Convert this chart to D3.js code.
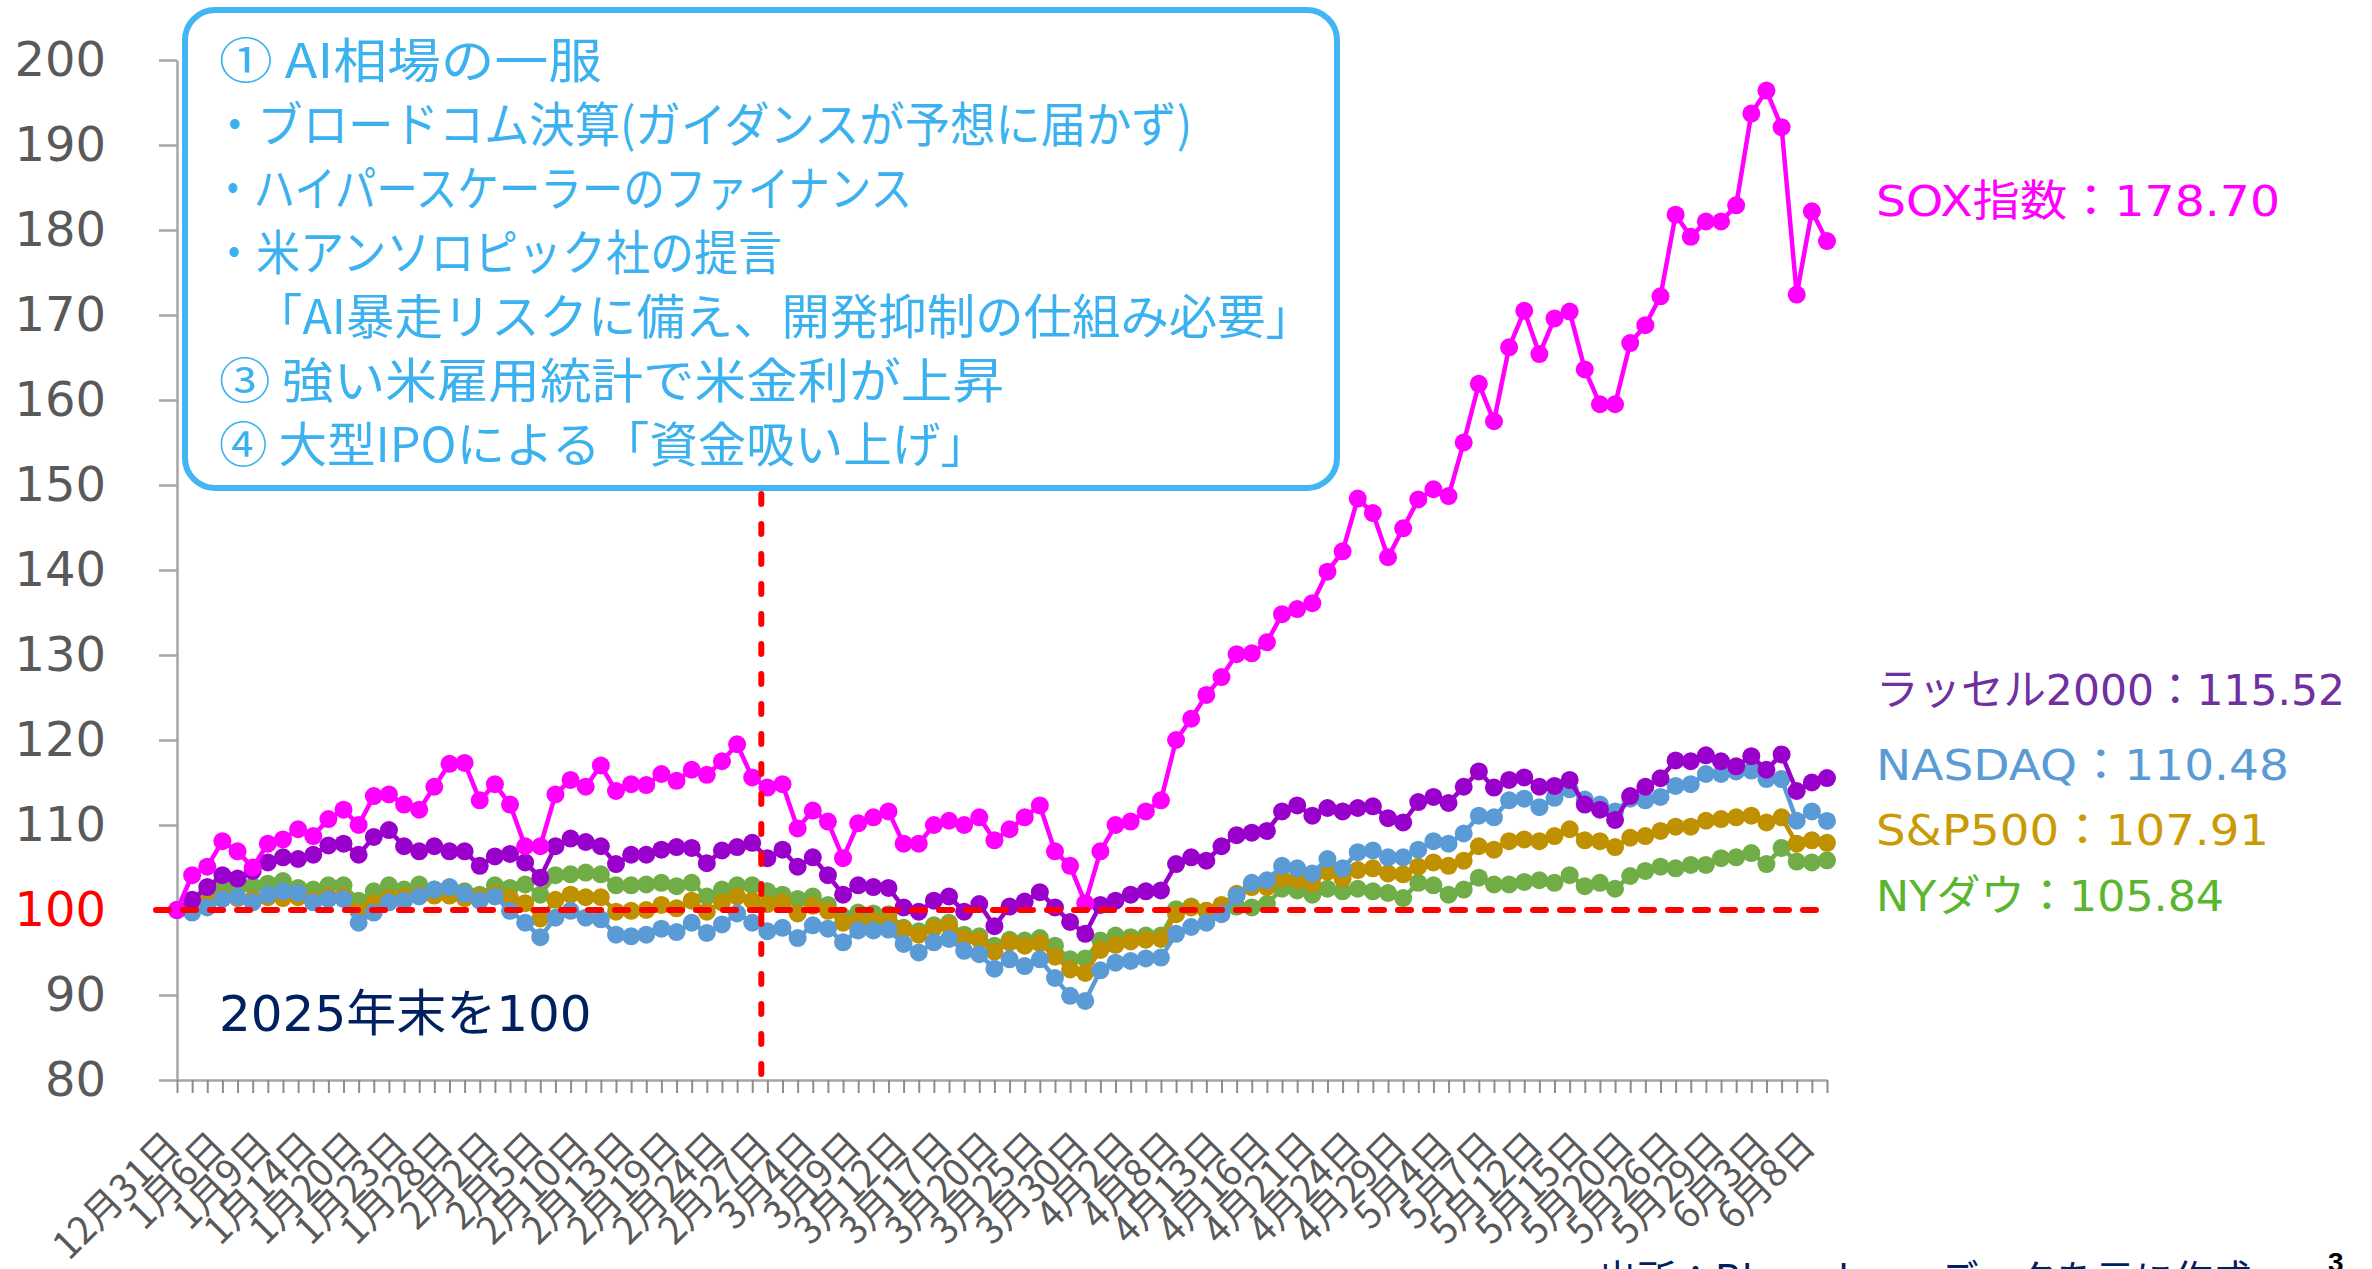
<!DOCTYPE html>
<html><head><meta charset="utf-8">
<script src="https://cdn.jsdelivr.net/npm/d3@7"></script>
<style>body{margin:0;background:#fff;} svg{display:block}</style>
</head><body>
<svg id="c" width="2372" height="1269"></svg>
<script>
const dates = ["12月31日","1月2日","1月5日","1月6日","1月7日","1月8日","1月9日","1月12日","1月13日","1月14日",
"1月15日","1月16日","1月20日","1月21日","1月22日","1月23日","1月26日","1月27日","1月28日","1月29日",
"1月30日","2月2日","2月3日","2月4日","2月5日","2月6日","2月9日","2月10日","2月11日","2月12日",
"2月13日","2月17日","2月18日","2月19日","2月20日","2月23日","2月24日","2月25日","2月26日","2月27日",
"3月2日","3月3日","3月4日","3月5日","3月6日","3月9日","3月10日","3月11日","3月12日","3月13日",
"3月16日","3月17日","3月18日","3月19日","3月20日","3月23日","3月24日","3月25日","3月26日","3月27日",
"3月30日","3月31日","4月1日","4月2日","4月6日","4月7日","4月8日","4月9日","4月10日","4月13日",
"4月14日","4月15日","4月16日","4月17日","4月20日","4月21日","4月22日","4月23日","4月24日","4月27日",
"4月28日","4月29日","4月30日","5月1日","5月4日","5月5日","5月6日","5月7日","5月8日","5月11日",
"5月12日","5月13日","5月14日","5月15日","5月18日","5月19日","5月20日","5月21日","5月22日","5月26日",
"5月27日","5月28日","5月29日","6月1日","6月2日","6月3日","6月4日","6月5日","6月8日","6月9日"];

const sox = [100,104.1,105.1,108.1,106.9,105.0,107.8,108.3,109.5,108.7,
110.7,111.8,110.0,113.4,113.6,112.4,111.8,114.5,117.2,117.3,
112.9,114.8,112.4,107.5,107.5,113.6,115.3,114.5,117.0,114.0,
114.8,114.7,116.0,115.2,116.5,115.9,117.5,119.5,115.6,114.4,
114.8,109.6,111.7,110.4,106.1,110.2,110.9,111.6,107.8,107.8,
110.0,110.5,110.0,110.9,108.2,109.5,110.9,112.3,106.9,105.2,
100.8,106.9,110.0,110.4,111.6,112.9,120.0,122.5,125.3,127.4,
130.1,130.2,131.5,134.8,135.4,136.1,139.8,142.2,148.4,146.7,
141.5,144.9,148.3,149.5,148.7,155.0,161.9,157.5,166.2,170.5,
165.4,169.6,170.4,163.6,159.5,159.5,166.7,168.8,172.2,181.8,
179.2,181.0,181.0,182.9,193.7,196.4,192.1,172.4,182.2,178.70];

const russell = [100,101.2,102.7,104.1,103.7,104.6,105.6,106.2,106.0,106.5,
107.6,107.8,106.5,108.6,109.4,107.5,106.9,107.5,106.9,106.9,
105.2,106.3,106.6,105.6,103.8,107.5,108.4,108.0,107.5,105.4,
106.5,106.5,107.1,107.4,107.3,105.5,107.0,107.4,107.9,106.1,
107.1,105.1,106.2,104.1,101.8,102.9,102.7,102.6,100.3,99.8,
101.1,101.6,99.8,100.7,98.1,100.4,101.0,102.1,100.3,98.6,
97.2,100.6,101.1,101.8,102.2,102.3,105.4,106.2,105.8,107.5,
108.8,109.1,109.3,111.6,112.3,111.1,112.0,111.6,112.0,112.2,
110.8,110.3,112.7,113.3,112.6,114.5,116.3,114.4,115.3,115.6,
114.5,114.6,115.3,112.4,111.8,110.6,113.4,114.5,115.5,117.6,
117.5,118.2,117.5,116.9,118.1,116.5,118.3,114.0,115.0,115.52];

const nasdaq = [100,99.7,100.3,101.3,101.5,100.9,101.8,102.2,102.0,100.9,
101.3,101.3,98.5,99.7,100.9,101.1,101.6,102.4,102.7,101.9,
101.1,101.6,99.9,98.5,96.8,99.1,99.9,99.1,98.9,97.1,
96.9,97.1,97.8,97.4,98.5,97.3,98.3,99.6,98.5,97.5,
97.9,96.7,98.2,97.8,96.2,97.6,97.6,97.7,96.0,95.0,
96.2,96.6,95.2,94.8,93.1,94.2,93.4,94.2,92.0,89.9,
89.3,92.9,93.8,94.0,94.3,94.4,97.2,98.0,98.5,99.5,
101.7,103.2,103.5,105.2,104.9,104.3,106.0,104.9,106.8,107.0,
106.2,106.2,107.1,108.1,107.8,109.0,111.1,110.9,112.9,113.1,
112.1,113.2,114.2,113.0,112.4,111.6,113.1,112.9,113.3,114.6,
114.8,116.0,116.0,116.3,116.4,115.4,115.4,110.5,111.6,110.48];

const sp500 = [100,100.6,101.2,101.5,101.4,101.2,101.5,101.4,101.5,101.2,
101.6,101.6,99.8,100.8,101.4,101.6,101.8,101.7,101.7,101.4,
101.4,101.9,101.4,100.8,99.0,101.2,101.8,101.5,101.5,99.8,
99.9,100.0,100.6,100.2,101.1,99.8,100.9,101.6,101.1,100.7,
100.9,99.6,100.5,99.9,98.5,98.7,98.7,98.8,97.7,97.1,
97.9,98.2,96.7,96.5,95.1,96.2,95.8,96.1,94.5,93.0,
92.6,95.3,95.9,96.3,96.5,96.6,99.5,100.3,99.9,100.6,
101.9,102.7,102.7,103.7,103.5,103.1,104.5,103.7,104.7,104.9,
104.3,104.2,105.1,105.6,105.2,105.8,107.5,107.1,108.1,108.3,
108.1,108.7,109.5,108.2,108.1,107.4,108.5,108.7,109.3,109.8,
109.8,110.5,110.7,110.9,111.1,110.3,110.9,107.8,108.2,107.91];

const dow = [100,101.0,102.0,102.8,102.6,102.8,103.1,103.4,102.6,102.4,
102.9,102.9,101.1,102.2,102.9,102.4,103.0,102.4,102.4,102.2,
101.8,102.9,102.6,103.0,101.8,104.1,104.2,104.4,104.2,102.9,
102.9,103.0,103.2,102.8,103.2,101.6,102.4,102.9,102.9,102.2,
101.8,101.3,101.6,100.6,99.2,99.7,99.6,99.5,97.9,97.5,
98.2,98.5,97.1,96.9,95.8,96.5,96.4,96.7,95.8,94.2,
94.3,96.4,97.0,96.8,97.0,97.0,100.1,100.4,99.9,100.3,
100.4,100.3,100.7,102.5,102.3,101.8,102.5,102.2,102.5,102.2,
102.0,101.4,103.2,102.9,101.8,102.4,103.8,103.0,103.0,103.3,
103.5,103.2,104.1,102.8,103.2,102.5,104.0,104.6,105.1,104.9,
105.3,105.3,106.1,106.2,106.7,105.4,107.3,105.7,105.6,105.84];

const yTicks = [80,90,100,110,120,130,140,150,160,170,180,190,200];
const baseValue = 100;
const eventDates = ["2月26日","2月27日"];

const notes = [
  "① AI相場の一服",
  "・ブロードコム決算(ガイダンスが予想に届かず)",
  "・ハイパースケーラーのファイナンス",
  "・米アンソロピック社の提言",
  "「AI暴走リスクに備え、開発抑制の仕組み必要」",
  "③ 強い米雇用統計で米金利が上昇",
  "④ 大型IPOによる「資金吸い上げ」"
];

const series = [
  {name:"NYダウ", values:dow, color:"#70AD47", labelColor:"#5AB52F"},
  {name:"S&P500", values:sp500, color:"#BF9000", labelColor:"#C99A06"},
  {name:"NASDAQ", values:nasdaq, color:"#5B9BD5", labelColor:"#5B9BD5"},
  {name:"ラッセル2000", values:russell, color:"#9900CC", labelColor:"#7030A0"},
  {name:"SOX指数", values:sox, color:"#FF00FF", labelColor:"#FF00FF"}
];

// ---------- drawing ----------
const svg = d3.select("#c");
const L = 177, R = 1827, T = 60, B = 1080;
const x = d3.scalePoint().domain(dates).range([L, R]).padding(0);
const y = d3.scaleLinear().domain([80, 200]).range([B, T]);
const CJK = "'Noto Sans CJK JP', 'Noto Sans', sans-serif";
const LAT = "'DejaVu Sans', 'Noto Sans CJK JP', sans-serif";

// Y axis
const yAxis = svg.append("g").attr("transform", `translate(${L},0)`)
  .call(d3.axisLeft(y).tickValues(yTicks).tickSize(18).tickSizeOuter(0).tickPadding(53));
yAxis.select(".domain").attr("stroke", "#A6A6A6").attr("stroke-width", 2.5);
yAxis.selectAll(".tick line").attr("stroke", "#A6A6A6").attr("stroke-width", 2.5);
yAxis.selectAll(".tick text").attr("font-family", LAT).attr("font-size", 48)
  .attr("fill", d => d === baseValue ? "#FF0000" : "#595959");

// X axis
const xAxis = svg.append("g").attr("transform", `translate(0,${B})`)
  .call(d3.axisBottom(x).tickSize(13).tickSizeOuter(0)
    .tickFormat((d, i) => i % 3 === 0 ? d : ""));
xAxis.select(".domain").attr("stroke", "#A6A6A6").attr("stroke-width", 2.5);
xAxis.selectAll(".tick line").attr("stroke", "#8C8C8C").attr("stroke-width", 2);
xAxis.selectAll(".tick text")
  .attr("font-family", CJK).attr("font-size", 38).attr("fill", "#595959")
  .attr("text-anchor", "end").attr("y", 0).attr("dy", 0)
  .attr("transform", "translate(5,68) rotate(-45)");

// series
const line = d3.line().x((d, i) => x(dates[i])).y(d => y(d));
series.forEach(s => {
  const g = svg.append("g");
  g.append("path").attr("d", line(s.values)).attr("fill", "none")
    .attr("stroke", s.color).attr("stroke-width", 4.5).attr("stroke-linejoin", "round");
  g.selectAll("circle").data(s.values).join("circle")
    .attr("cx", (d, i) => x(dates[i])).attr("cy", d => y(d)).attr("r", 9)
    .attr("fill", s.color);
});

// base line at 100
svg.append("line").attr("x1", L - 21).attr("x2", R).attr("y1", y(baseValue)).attr("y2", y(baseValue))
  .attr("stroke", "#FF0000").attr("stroke-width", 6).attr("stroke-dasharray", "13,14")
  .attr("stroke-linecap", "round");

// event vertical line
const ex = x(eventDates[0]) + 0.6 * (x(eventDates[1]) - x(eventDates[0]));
svg.append("line").attr("x1", ex).attr("x2", ex).attr("y1", 494).attr("y2", B)
  .attr("stroke", "#FF0000").attr("stroke-width", 6).attr("stroke-dasharray", "10,20")
  .attr("stroke-linecap", "round");

// annotation box
svg.append("rect").attr("x", 185).attr("y", 10).attr("width", 1152).attr("height", 478)
  .attr("rx", 30).attr("ry", 30).attr("fill", "#fff")
  .attr("stroke", "#41B6F2").attr("stroke-width", 6);
const noteX = [219, 212, 212, 212, 254, 219, 219];
const noteLen = [383, 980, 700, 570, 1060, 785, 770];
svg.append("g").selectAll("text").data(notes).join("text")
  .attr("x", (d, i) => noteX[i]).attr("y", (d, i) => 78 + i * 64)
  .attr("font-family", CJK).attr("font-size", 48).attr("fill", "#3BB2EF")
  .attr("textLength", (d, i) => noteLen[i]).attr("lengthAdjust", "spacingAndGlyphs")
  .text(d => d);

// base note
svg.append("text").attr("x", 219).attr("y", 1031).attr("font-family", LAT)
  .attr("font-size", 50).attr("fill", "#002060").text("2025年末を" + baseValue);

// right labels
const labelY = {"SOX指数":201, "ラッセル2000":690, "NASDAQ":765, "S&P500":830, "NYダウ":896};
const labelLen = {"SOX指数":404, "ラッセル2000":469, "NASDAQ":413, "S&P500":393, "NYダウ":348};
svg.append("g").selectAll("text").data(series).join("text")
  .attr("x", 1876).attr("y", s => labelY[s.name]).attr("dominant-baseline", "central")
  .attr("font-family", LAT).attr("font-size", 43).attr("fill", s => s.labelColor)
  .attr("textLength", s => labelLen[s.name]).attr("lengthAdjust", "spacingAndGlyphs")
  .text(s => s.name + "：" + s.values[s.values.length - 1].toFixed(2));

// source & page
svg.append("text").attr("x", 1598).attr("y", 1293).attr("font-family", LAT)
  .attr("font-size", 39).attr("fill", "#002060").text("出所：Bloomberg データを元に作成");
svg.append("text").attr("x", 2328).attr("y", 1272).attr("font-family", "'Liberation Sans', sans-serif")
  .attr("font-size", 28).attr("font-weight", "bold").attr("fill", "#000").text("3");
</script>
</body></html>
